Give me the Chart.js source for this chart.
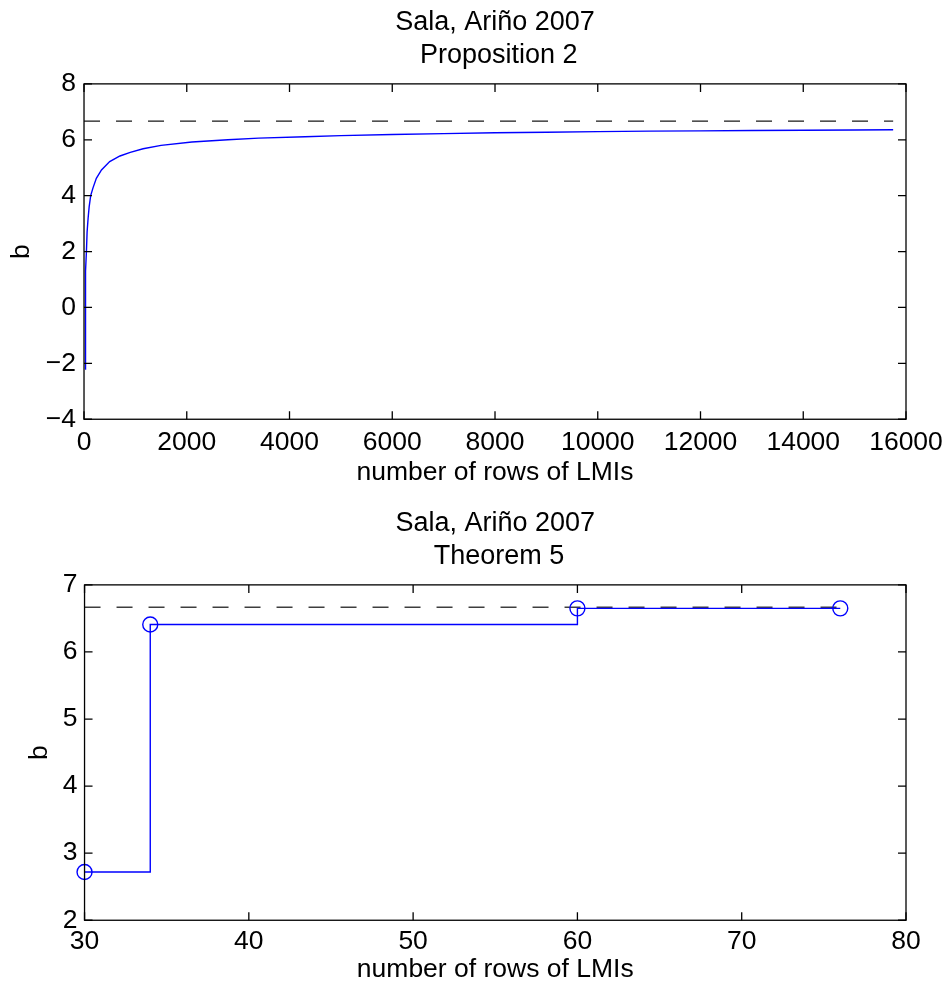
<!DOCTYPE html>
<html>
<head>
<meta charset="utf-8">
<script src="https://cdn.jsdelivr.net/npm/chart.js@4.4.1/dist/chart.umd.min.js"></script>
<style>
    html, body { margin: 0; padding: 0; background: #fff; overflow: hidden; }
    .panel { position: absolute; left: 0; width: 960px; height: 500px; }
</style>
</head>
<body>
<div class="panel" style="top: 0;"><canvas id="propChart" width="960" height="500"></canvas></div>
<div class="panel" style="top: 501px;"><canvas id="theoremChart" width="960" height="500"></canvas></div>
<script>
// Proposition 2: b versus number of LMI rows
const propRows = [20, 26, 33, 47, 60, 80, 100, 130, 175, 240, 340, 500, 700, 900, 1150, 1500, 2100, 2800,
    3400, 4300, 5000, 6000, 7000, 8000, 9000, 10000, 11000, 12000, 13000, 14000, 15000, 15750];
const propB = [-2.2, -0.4, 1.3, 2.0, 2.7, 3.2, 3.6, 4.0, 4.28, 4.62, 4.92, 5.22, 5.42, 5.55, 5.68, 5.8, 5.92, 6.0,
    6.06, 6.11, 6.15, 6.19, 6.22, 6.25, 6.27, 6.29, 6.31, 6.32, 6.33, 6.34, 6.35, 6.36];
const propBoundRows = [0, 15750];

// Theorem 5
const thmRows = [30, 34, 60, 76];
const thmB = [2.72, 6.41, 6.65, 6.65];
const thmBoundRows = [30, 76];

const boundB = 6.667;

const propXTicks = [0, 2000, 4000, 6000, 8000, 10000, 12000, 14000, 16000];
const propYTicks = [-4, -2, 0, 2, 4, 6, 8];
const thmXTicks = [30, 40, 50, 60, 70, 80];
const thmYTicks = [2, 3, 4, 5, 6, 7];

const FONT = '"Liberation Sans", Arial, Helvetica, sans-serif';
const BLUE = '#0000ff';

// matlab style box with inward ticks on all four sides
const boxTicks = {
    id: 'boxTicks',
    afterDatasetsDraw(chart) {
        const {ctx, chartArea: a, scales: {x, y}} = chart;
        const len = 8;
        ctx.save();
        ctx.strokeStyle = '#000';
        ctx.lineWidth = 1.3;
        ctx.beginPath();
        x.ticks.forEach(t => {
            const px = x.getPixelForValue(t.value);
            ctx.moveTo(px, a.bottom);
            ctx.lineTo(px, a.bottom - len);
            ctx.moveTo(px, a.top);
            ctx.lineTo(px, a.top + len);
        });
        y.ticks.forEach(t => {
            const py = y.getPixelForValue(t.value);
            ctx.moveTo(a.left, py);
            ctx.lineTo(a.left + len, py);
            ctx.moveTo(a.right, py);
            ctx.lineTo(a.right - len, py);
        });
        ctx.stroke();
        ctx.strokeRect(a.left, a.top, a.right - a.left, a.bottom - a.top);
        ctx.restore();
    }
};

function fixedTicks(values) {
    return function (scale) {
        scale.ticks = values.map(v => ({value: v}));
    };
}

function axisOptions(xTicks, yTicks, xPad, yPad) {
    const tickFont = {family: FONT, size: 26.5, lineHeight: 1.0};
    const fmt = v => String(v).replace('-', '\u2212');
    return {
        x: {
            type: 'linear',
            min: xTicks[0],
            max: xTicks[xTicks.length - 1],
            afterBuildTicks: fixedTicks(xTicks),
            grid: {display: false, drawTicks: false},
            border: {display: false},
            ticks: {color: '#000', font: tickFont, padding: xPad, maxRotation: 0, callback: fmt},
            title: {display: true, text: 'number of rows of LMIs', color: '#000',
                font: {family: FONT, size: 26.5, lineHeight: 0.5}, padding: {top: 0, bottom: 0}}
        },
        y: {
            type: 'linear',
            min: yTicks[0],
            max: yTicks[yTicks.length - 1],
            afterBuildTicks: fixedTicks(yTicks),
            grid: {display: false, drawTicks: false},
            border: {display: false},
            ticks: {color: '#000', font: tickFont, padding: yPad, callback: fmt},
            title: {display: true, text: 'b', color: '#000',
                font: {family: FONT, size: 26.5, lineHeight: 1.2}, padding: {top: 0, bottom: 0}}
        }
    };
}

function titleOptions(second) {
    return {
        display: true,
        fullSize: false,
        text: ['Sala, Ari\u00f1o 2007', ' ' + second],
        color: '#000',
        font: {family: FONT, size: 27, weight: 'normal', lineHeight: 1.22},
        padding: {top: 6, bottom: 12}
    };
}

new Chart(document.getElementById('propChart'), {
    type: 'line',
    data: {
        datasets: [
            {
                data: propRows.map((r, i) => ({x: r, y: propB[i]})),
                borderColor: BLUE,
                borderWidth: 1.4,
                pointRadius: 0,
                tension: 0
            },
            {
                data: propBoundRows.map(r => ({x: r, y: boundB})),
                borderColor: '#222',
                borderWidth: 1.3,
                borderDash: [16, 16],
                pointRadius: 0
            }
        ]
    },
    options: {
        responsive: false,
        animation: false,
        layout: {padding: {left: 6, right: 54, bottom: 21}},
        scales: axisOptions(propXTicks, propYTicks, 10, 8),
        plugins: {
            legend: {display: false},
            tooltip: {enabled: false},
            title: titleOptions('Proposition 2')
        }
    },
    plugins: [boxTicks]
});

new Chart(document.getElementById('theoremChart'), {
    type: 'line',
    data: {
        datasets: [
            {
                data: thmRows.map((r, i) => ({x: r, y: thmB[i]})),
                borderColor: BLUE,
                borderWidth: 1.4,
                stepped: 'before',
                pointStyle: 'circle',
                pointRadius: 7.5,
                pointBorderWidth: 1.4,
                pointBorderColor: BLUE,
                pointBackgroundColor: 'rgba(0,0,0,0)'
            },
            {
                data: thmBoundRows.map(r => ({x: r, y: boundB})),
                borderColor: '#222',
                borderWidth: 1.3,
                borderDash: [16, 16],
                pointRadius: 0
            }
        ]
    },
    options: {
        responsive: false,
        animation: false,
        clip: false,
        layout: {padding: {left: 24, right: 54, bottom: 25}},
        scales: axisOptions(thmXTicks, thmYTicks, 8, 7),
        plugins: {
            legend: {display: false},
            tooltip: {enabled: false},
            title: titleOptions('Theorem 5')
        }
    },
    plugins: [boxTicks]
});
</script>
</body>
</html>
